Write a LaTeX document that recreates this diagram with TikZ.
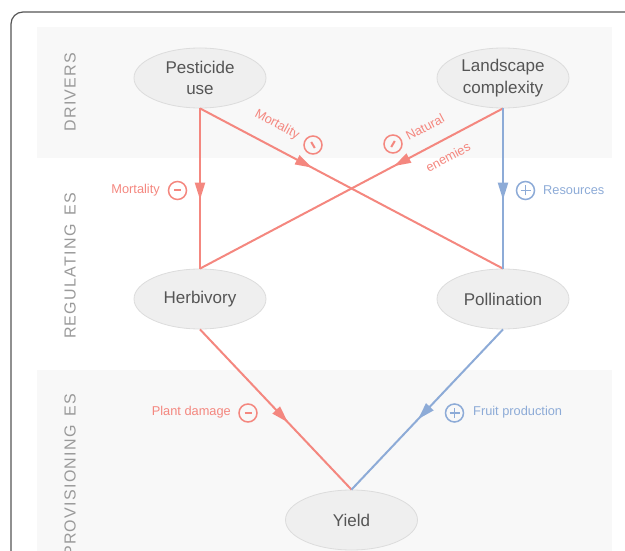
\documentclass[tikz,border=0pt]{standalone}
\usepackage{fontspec}
\setmainfont{Liberation Sans}
\newfontfamily\bandfont[LetterSpace=8]{Liberation Sans}
\usetikzlibrary{decorations.markings,arrows.meta,shapes.geometric,calc}
\definecolor{redc}{HTML}{F4877F}
\definecolor{bluec}{HTML}{8DABD7}
\definecolor{bandfill}{HTML}{F8F8F8}
\definecolor{nodefill}{HTML}{EFEFEF}
\definecolor{nodeline}{HTML}{DCDCDC}
\definecolor{nodetext}{HTML}{555555}
\definecolor{bandtext}{HTML}{9A9A9A}
\definecolor{frame}{HTML}{555555}
\tikzset{
  es/.style={ellipse, fill=nodefill, draw=nodeline, line width=0.8pt,
    minimum width=132pt, minimum height=60pt, inner sep=0pt,
    text=nodetext, font=\fontsize{17pt}{21.7pt}\selectfont, align=center},
  bandlabel/.style={rotate=90, text=bandtext, font=\fontsize{16pt}{19pt}\bandfont, inner sep=0pt},
  elabel/.style={font=\fontsize{12.8pt}{15pt}\selectfont, inner sep=0pt},
  signc/.style={circle, draw, line width=1.5pt, minimum size=18pt, inner sep=0pt},
  link/.style={line width=2pt},
  midarrow/.style={postaction={decorate,decoration={markings,
    mark=at position #1 with {\arrow{Triangle[length=17pt,width=10pt]}}}}},
}
\begin{document}
\begin{tikzpicture}[x=1pt,y=-1pt]
\useasboundingbox (0,0) rectangle (625,551);
\clip (0,0) rectangle (625,551);
% frame
\draw[frame, line width=1.2pt, rounded corners=12pt] (11,580) -- (11,12) -- (660,12);
% bands
\fill[bandfill] (37,27) rectangle (612,158);
\fill[bandfill] (37,370) rectangle (612,580);
\node[bandlabel] (bd) at (70,92) {DRIVERS};
\node[bandlabel] (br) at (70,266) {REGULATING\hspace{3pt} ES};
\node[bandlabel, anchor=west] (bp) at (70,557) {PROVISIONING\hspace{3pt} ES};
% nodes
\node[es] (pest) at (200,78) {Pesticide\\use};
\node[es] (land) at (503,78) {Landscape\\complexity};
\node[es] (herb) at (200,299) {Herbivory};
\node[es] (poll) at (503,299) {Pollination};
\node[es] (yield) at (351.5,520) {Yield};
% connectors
\draw[link, redc, midarrow=0.57] (pest.south) -- (herb.north);
\draw[link, redc, midarrow=0.37] (pest.south) -- (poll.north);
\draw[link, redc, midarrow=0.36] (land.south) -- (herb.north);
\draw[link, bluec, midarrow=0.57] (land.south) -- (poll.north);
\draw[link, redc, midarrow=0.58] (herb.south) -- (yield.north);
\draw[link, bluec, midarrow=0.56] (poll.south) -- (yield.north);
% labels
\node[elabel, text=redc, anchor=east] (l1) at (160,190) {Mortality};
\node[signc, draw=redc] (s1) at (177.5,190.5) {};
\draw[redc, line width=2pt] ([xshift=-3.5pt]s1.center) -- ([xshift=3.5pt]s1.center);

\node[elabel, text=bluec, anchor=west] (l2) at (543,190.5) {Resources};
\node[signc, draw=bluec] (s2) at (525.5,190.5) {};
\draw[bluec, line width=1.6pt] ([xshift=-5pt]s2.center) -- ([xshift=5pt]s2.center);
\draw[bluec, line width=1.6pt] ([yshift=-5pt]s2.center) -- ([yshift=5pt]s2.center);

\node[elabel, text=redc, rotate=-28] (l3) at (277,125) {Mortality};
\node[signc, draw=redc] (s3) at (313,145) {};
\draw[redc, line width=2pt] ($(s3.center)+(-1.8,-3)$) -- ($(s3.center)+(1.8,3)$);

\node[elabel, text=redc, rotate=28] (l4) at (425,127) {Natural};
\node[elabel, text=redc, rotate=28] (l5) at (448,157) {enemies};
\node[signc, draw=redc] (s4) at (393,144) {};
\draw[redc, line width=2pt] ($(s4.center)+(-1.8,3)$) -- ($(s4.center)+(1.8,-3)$);

\node[elabel, text=redc, anchor=east] (l6) at (231,412) {Plant damage};
\node[signc, draw=redc] (s5) at (248,413) {};
\draw[redc, line width=2pt] ([xshift=-3.5pt]s5.center) -- ([xshift=3.5pt]s5.center);

\node[elabel, text=bluec, anchor=west] (l7) at (473,412) {Fruit production};
\node[signc, draw=bluec] (s6) at (454.5,413) {};
\draw[bluec, line width=1.6pt] ([xshift=-5pt]s6.center) -- ([xshift=5pt]s6.center);
\draw[bluec, line width=1.6pt] ([yshift=-5pt]s6.center) -- ([yshift=5pt]s6.center);
\end{tikzpicture}
\end{document}
